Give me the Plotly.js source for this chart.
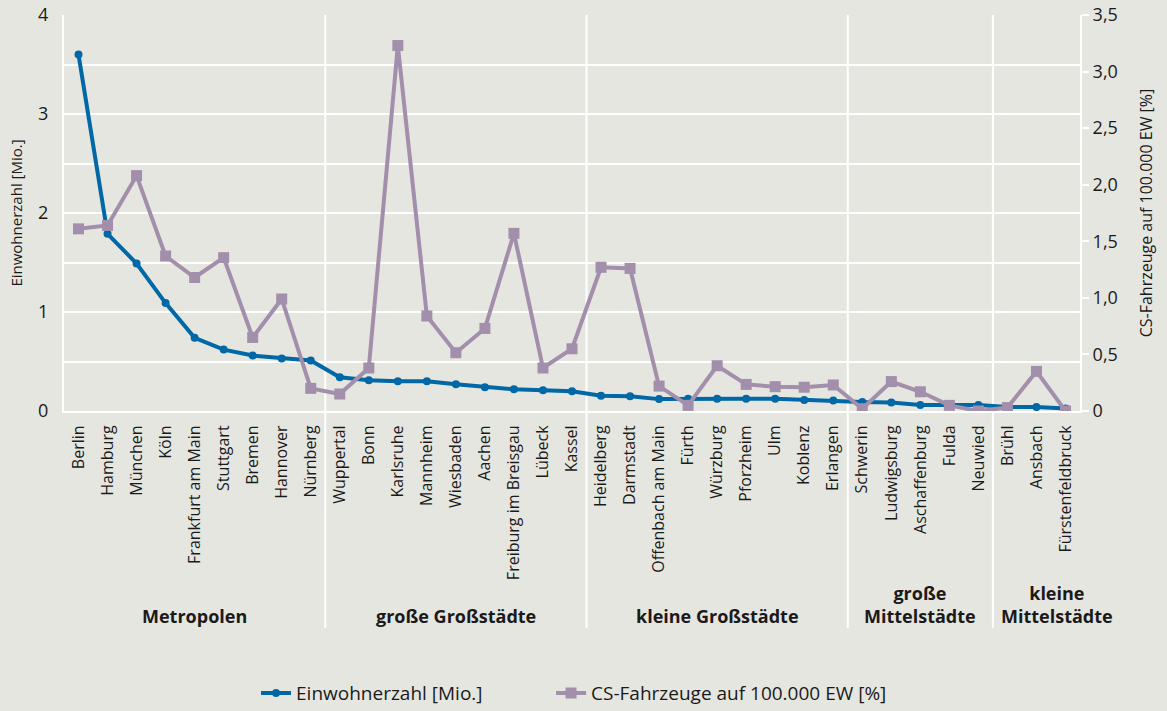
<!DOCTYPE html>
<html>
<head>
<meta charset="utf-8">
<script src="https://cdn.plot.ly/plotly-3.0.1.min.js"></script>
<style>
html,body{margin:0;padding:0;background:#e6e6e1;}
#chart{width:1167px;height:711px;}
</style>
</head>
<body>
<div id="chart"></div>
<script>
const cities = ["Berlin","Hamburg","München","Köln","Frankfurt am Main","Stuttgart","Bremen","Hannover","Nürnberg",
  "Wuppertal","Bonn","Karlsruhe","Mannheim","Wiesbaden","Aachen","Freiburg im Breisgau","Lübeck","Kassel",
  "Heidelberg","Darmstadt","Offenbach am Main","Fürth","Würzburg","Pforzheim","Ulm","Koblenz","Erlangen",
  "Schwerin","Ludwigsburg","Aschaffenburg","Fulda","Neuwied",
  "Brühl","Ansbach","Fürstenfeldbruck"];
const einwohner = [3.60,1.79,1.49,1.09,0.74,0.62,0.56,0.53,0.51,
  0.34,0.31,0.30,0.30,0.27,0.24,0.22,0.21,0.20,
  0.155,0.15,0.12,0.125,0.125,0.125,0.125,0.11,0.105,
  0.09,0.085,0.06,0.06,0.06,
  0.04,0.04,0.025];
const csFahrzeuge = [1.61,1.64,2.08,1.37,1.18,1.355,0.65,0.99,0.20,
  0.15,0.38,3.23,0.84,0.515,0.73,1.57,0.38,0.55,
  1.27,1.26,0.22,0.05,0.40,0.235,0.215,0.21,0.23,
  0.02,0.26,0.17,0.05,0.0,
  0.03,0.35,0.0];
const groupNames = ["Metropolen","große Großstädte","kleine Großstädte","große<br>Mittelstädte","kleine<br>Mittelstädte"];
const groupCenters = [4,13,22,29,33.7];
const groupBounds = [8.5,17.5,26.5,31.5];
const leftTicks = [0,0.5,1,1.5,2,2.5,3,3.5,4];
const leftTickText = ["0","","1","","2","","3","","4"];
const rightTicks = [0,0.5,1,1.5,2,2.5,3,3.5];
const rightTickText = ["0","0,5","1,0","1,5","2,0","2,5","3,0","3,5"];

const BLUE = "#0068a6";
const PURPLE = "#a28fab";
const BG = "#e6e6e1";
const FONT = "Open Sans";
const TXT = "#1a1a1a";

const traces = [
  {x: cities, y: einwohner, name: "Einwohnerzahl [Mio.]", type: "scatter", mode: "lines+markers",
   line: {color: BLUE, width: 4}, marker: {color: BLUE, size: 8, symbol: "circle"}, yaxis: "y", legend: "legend"},
  {x: cities, y: csFahrzeuge, name: "CS-Fahrzeuge auf 100.000 EW [%]", type: "scatter", mode: "lines+markers",
   line: {color: PURPLE, width: 4}, marker: {color: PURPLE, size: 11, symbol: "square"}, yaxis: "y2", legend: "legend2"}
];

const shapes = groupBounds.map(b => ({type: "line", xref: "x", yref: "paper", x0: b, x1: b, y0: -0.548, y1: 1,
  line: {color: "#ffffff", width: 2}, layer: "below"}));

const annotations = groupNames.map((g, i) => ({text: "<b>" + g + "</b>", xref: "x", yref: "paper",
  x: groupCenters[i], y: -0.52 - 13/396, yanchor: "bottom", showarrow: false, align: "center",
  font: {family: FONT, size: 18, color: TXT}}));

const legendBase = {orientation: "h", xref: "container", xanchor: "left", yref: "container", y: 0.025, yanchor: "middle",
  font: {family: FONT, size: 19, color: TXT}, bgcolor: "rgba(0,0,0,0)", itemwidth: 30};

const layout = {
  width: 1167, height: 711,
  paper_bgcolor: BG, plot_bgcolor: BG,
  margin: {l: 64, r: 87, t: 15, b: 300},
  font: {family: FONT, color: TXT, size: 15},
  showlegend: true,
  legend: Object.assign({}, legendBase, {x: 0.2194}),
  legend2: Object.assign({}, legendBase, {x: 0.4722}),
  xaxis: {type: "category", range: [-0.5, 34.5], tickangle: -90, showgrid: false, zeroline: false,
    showline: true, linecolor: "#ffffff", linewidth: 2,
    ticks: "outside", ticklen: 6, tickcolor: "rgba(0,0,0,0)",
    tickfont: {family: FONT, size: 16, color: TXT}, fixedrange: true},
  yaxis: {range: [0, 4], tickvals: leftTicks, ticktext: leftTickText,
    showgrid: true, gridcolor: "#ffffff", gridwidth: 2, zeroline: false,
    showline: true, linecolor: "#ffffff", linewidth: 2,
    ticks: "outside", ticklen: 10, tickcolor: "rgba(0,0,0,0)",
    tickfont: {family: FONT, size: 18, color: TXT},
    title: {text: "Einwohnerzahl [Mio.]", standoff: 12, font: {family: FONT, size: 15, color: TXT}}},
  yaxis2: {range: [0, 3.5], overlaying: "y", side: "right", tickvals: rightTicks, ticktext: rightTickText,
    showgrid: false, zeroline: false, showline: true, linecolor: "#ffffff", linewidth: 2,
    ticks: "outside", ticklen: 7, tickcolor: "#ffffff", tickwidth: 2,
    tickfont: {family: FONT, size: 18, color: TXT},
    title: {text: "CS-Fahrzeuge auf 100.000 EW [%]", standoff: 24, font: {family: FONT, size: 16, color: TXT}}},
  shapes: shapes,
  annotations: annotations
};

Plotly.newPlot("chart", traces, layout, {displayModeBar: false, staticPlot: true});
</script>
</body>
</html>
